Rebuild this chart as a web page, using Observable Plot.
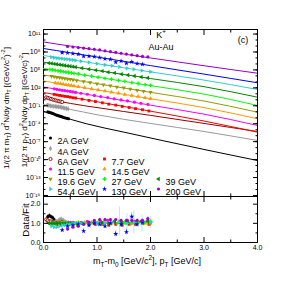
<!DOCTYPE html>
<html><head><meta charset="utf-8">
<script src="https://cdn.jsdelivr.net/npm/d3@7"></script>
<script src="https://cdn.jsdelivr.net/npm/@observablehq/plot@0.6"></script>
<style>
body{margin:0;background:#fff;}
#wrap{position:relative;width:286px;height:286px;line-height:0;}
#wrap svg{display:block;}
#over{position:absolute;left:0;top:0;pointer-events:none;}
</style></head><body><div id="wrap"></div>
<script>
// ---------- data ----------
const energies = ["2A GeV","4A GeV","6A GeV","7.7 GeV","11.5 GeV","14.5 GeV","19.6 GeV","27 GeV","39 GeV","54.4 GeV","130 GeV","200 GeV"];
const colors = ["#000000","#999999","#990000","#ff0000","#ff00ff","#ff9900","#999900","#00ff00","#008800","#33cccc","#0000ff","#9900cc"];
const symbols = ["circle","diamond","circle","square","circle","triangle","triangle","cross","triangle","triangle","star","circle"];
const rotations = [0,0,0,0,0,0,180,0,-90,90,0,0];
const hollow = [false,false,true,false,false,false,false,false,false,false,false,false];

// fit curves: x and log10(y)
const fitX = [
  [0,0.25,0.5,0.8,1.5,3,4],
  [0,0.25,0.5,1,2,3,4],
  [0,0.25,0.5,1,2,3,4],
  [0,0.5,1,2,3,4],[0,0.5,1,2,3,4],[0,0.5,1,2,3,4],[0,0.5,1,2,3,4],
  [0,0.5,1,2,3,4],[0,0.5,1,2,3,4],[0,0.5,1,2,3,4],[0,0.5,1,2,3,4],[0,0.5,1,2,3,4]
];
const fitLogY = [
  [-1.95,-2.6,-3.25,-4.0,-5.4,-8.3,-10.15],
  [-0.8,-1.2,-1.6,-2.5,-3.95,-5.3,-6.8],
  [0.45,-0.15,-0.6,-1.3,-2.6,-3.95,-5.3],
  [1.22,0.45,-0.32,-1.9,-3.55,-5.41],
  [2.14,1.38,0.62,-0.9,-2.4,-4.29],
  [3.15,2.41,1.67,0.18,-1.3,-3.17],
  [4.15,3.43,2.7,1.25,-0.2,-2.07],
  [5.24,4.52,3.8,2.37,0.95,-0.95],
  [6.29,5.6,4.92,3.56,2.2,0.44],
  [7.41,6.72,6.04,4.67,3.3,1.73],
  [8.58,7.87,7.15,5.72,4.3,2.85],
  [9.67,8.99,8.32,7.0,5.7,4.45]
];

// data points: x, log10(y), data/fit ratio and its error
const ptX = [
  [0.08,0.11,0.14,0.17,0.2,0.23,0.26,0.29,0.32,0.35,0.38,0.41,0.44,0.47],
  [0.07,0.1,0.13,0.16,0.19,0.22,0.25,0.28,0.31,0.34,0.37,0.4,0.43,0.46],
  [0.05,0.08,0.11,0.14,0.17,0.2,0.23,0.26,0.29,0.32,0.35],
  [0.2,0.25,0.3,0.35,0.4,0.45,0.5,0.55,0.6,0.72,0.85,0.97,1.1,1.22,1.35,1.47,1.6,1.72,1.85,1.97],
  [0.2,0.25,0.3,0.35,0.4,0.45,0.5,0.55,0.6,0.7,0.82,0.95,1.07,1.2,1.32,1.45,1.57,1.7,1.82,1.95],
  [0.22,0.27,0.32,0.37,0.42,0.47,0.52,0.57,0.65,0.77,0.9,1.02,1.15,1.27,1.4,1.52,1.65,1.77,1.9,2.0],
  [0.15,0.2,0.25,0.3,0.35,0.4,0.45,0.5,0.55,0.62,0.75,0.87,1.0,1.12,1.25,1.37,1.5,1.62,1.75,1.87,2.0],
  [0.12,0.17,0.22,0.27,0.32,0.37,0.42,0.47,0.52,0.57,0.65,0.77,0.9,1.02,1.15,1.27,1.4,1.52,1.65,1.77,1.9,2.0],
  [0.1,0.15,0.2,0.25,0.3,0.35,0.4,0.45,0.5,0.55,0.6,0.72,0.85,0.98,1.1,1.21,1.33,1.46,1.58,1.7,1.83,1.95],
  [0.15,0.2,0.25,0.3,0.35,0.4,0.45,0.5,0.55,0.6,0.7,0.85,1.0,1.15,1.28,1.42,1.56,1.69,1.84,2.0],
  [0.35,0.45,0.55,0.65,0.75,0.85,0.95,1.05,1.15,1.25,1.35,1.45,1.55,1.65,1.75,1.85],
  [0.45,0.55,0.65,0.75,0.85,0.95,1.05,1.15,1.25,1.35,1.45,1.55,1.65,1.75,1.85,1.95]
];
const ptLogY = [
  [-2.03,-2.09,-2.18,-2.28,-2.39,-2.51,-2.61,-2.70,-2.78,-2.86,-2.96,-3.04,-3.09,-3.17],
  [-0.87,-0.94,-1.01,-1.06,-1.08,-1.11,-1.16,-1.19,-1.22,-1.26,-1.33,-1.40,-1.47,-1.52],
  [0.41,0.32,0.23,0.15,0.06,-0.01,-0.10,-0.17,-0.25,-0.30,-0.37],
  [0.91,0.82,0.74,0.66,0.58,0.53,0.45,0.35,0.30,0.11,-0.11,-0.29,-0.50,-0.72,-0.89,-1.11,-1.29,-1.48,-1.66,-1.87],
  [1.84,1.76,1.66,1.59,1.53,1.46,1.40,1.32,1.23,1.10,0.93,0.74,0.55,0.38,0.17,-0.02,-0.19,-0.40,-0.58,-0.76],
  [2.82,2.75,2.70,2.60,2.53,2.43,2.38,2.31,2.19,2.03,1.82,1.64,1.47,1.27,1.10,0.90,0.71,0.55,0.34,0.19],
  [3.93,3.86,3.79,3.72,3.64,3.57,3.50,3.43,3.35,3.23,3.06,2.89,2.70,2.51,2.34,2.16,2.00,1.80,1.61,1.44,1.25],
  [5.07,5.00,4.93,4.85,4.78,4.73,4.64,4.57,4.50,4.42,4.33,4.14,3.97,3.80,3.60,3.44,3.26,3.09,2.88,2.73,2.54,2.42],
  [6.15,6.08,6.02,5.95,5.88,5.81,5.74,5.67,5.61,5.54,5.47,5.30,5.13,4.95,4.80,4.63,4.49,4.29,4.15,3.98,3.82,3.66],
  [7.13,7.04,6.97,6.93,6.88,6.81,6.77,6.71,6.66,6.59,6.45,6.25,6.04,5.83,5.68,5.50,5.27,5.11,4.89,4.69],
  [7.89,7.87,7.74,7.63,7.29,7.31,7.22,7.06,6.87,6.79,6.30,6.49,6.10,6.35,6.06,5.95],
  [8.92,8.83,8.73,8.65,8.55,8.46,8.34,8.20,8.07,7.94,7.79,7.65,7.52,7.39,7.26,7.17]
];
const ratio = [
  [1.35,1.4,1.35,1.3,1.2,1.1,1.05,1.0,1.0,1.0,0.95,0.95,1.0,1.0],
  [1.1,1.05,1.0,1.0,1.05,1.1,1.1,1.15,1.2,1.2,1.15,1.1,1.05,1.05],
  [1.2,1.15,1.1,1.1,1.05,1.05,1.0,1.0,1.0,1.05,1.05],
  [1.0,0.95,0.95,0.95,0.95,1.0,1.0,0.95,1.0,1.0,0.95,0.95,0.95,0.9,0.95,0.9,0.95,0.95,1.0,0.95],
  [1.0,1.0,0.95,0.95,1.0,1.0,1.05,1.05,1.0,1.05,1.1,1.1,1.1,1.15,1.1,1.1,1.15,1.1,1.1,1.15],
  [1.0,1.0,1.05,1.0,1.0,0.95,1.0,1.0,1.0,1.05,1.0,1.0,1.05,1.0,1.05,1.0,1.0,1.05,1.0,1.0],
  [1.0,1.0,1.0,1.0,1.0,1.0,1.0,1.0,1.0,0.95,1.0,1.0,1.0,0.95,1.0,1.0,1.05,1.0,1.0,1.0,1.0],
  [1.0,1.0,1.0,1.0,1.0,1.05,1.0,1.0,1.0,1.0,1.05,1.0,1.05,1.05,1.0,1.05,1.05,1.05,1.0,1.05,1.05,1.1],
  [1.0,1.0,1.0,1.0,1.0,1.0,1.0,1.0,1.0,1.0,1.0,1.0,1.0,1.0,1.05,1.0,1.05,1.0,1.05,1.05,1.1,1.1],
  [0.85,0.8,0.8,0.85,0.9,0.9,0.95,0.95,1.0,1.0,1.0,1.0,1.0,1.0,1.05,1.1,1.0,1.05,1.0,1.05],
  [0.65,0.85,0.9,0.95,0.6,0.9,1.0,0.95,0.85,1.0,0.45,0.95,0.55,1.35,0.95,1.05],
  [0.7,0.8,0.85,0.95,1.05,1.15,1.2,1.2,1.2,1.2,1.15,1.15,1.15,1.15,1.15,1.25]
];
const ratioErr = [
  [0.12,0.12,0.1,0.1,0.08,0.08,0.06,0.06,0.06,0.06,0.06,0.06,0.06,0.06],
  [0.06,0.06,0.06,0.06,0.06,0.08,0.08,0.1,0.12,0.12,0.1,0.08,0.08,0.08],
  [0.06,0.06,0.06,0.06,0.06,0.06,0.06,0.06,0.06,0.06,0.06],
  [0.03,0.03,0.03,0.03,0.03,0.03,0.03,0.03,0.03,0.03,0.03,0.03,0.03,0.04,0.04,0.04,0.05,0.05,0.05,0.06],
  [0.04,0.04,0.04,0.04,0.04,0.04,0.04,0.04,0.04,0.04,0.04,0.05,0.05,0.05,0.05,0.06,0.06,0.06,0.07,0.07],
  [0.03,0.03,0.03,0.03,0.03,0.03,0.03,0.03,0.03,0.03,0.03,0.03,0.04,0.04,0.04,0.04,0.05,0.05,0.05,0.06],
  [0.03,0.03,0.03,0.03,0.03,0.03,0.03,0.03,0.03,0.03,0.03,0.03,0.03,0.04,0.04,0.04,0.04,0.05,0.05,0.05,0.06],
  [0.03,0.03,0.03,0.03,0.03,0.03,0.03,0.03,0.03,0.03,0.03,0.03,0.03,0.03,0.04,0.04,0.04,0.04,0.05,0.05,0.05,0.06],
  [0.03,0.03,0.03,0.03,0.03,0.03,0.03,0.03,0.03,0.03,0.03,0.03,0.03,0.03,0.04,0.04,0.04,0.04,0.05,0.05,0.05,0.06],
  [0.03,0.03,0.03,0.03,0.03,0.03,0.03,0.03,0.04,0.04,0.05,0.05,0.06,0.1,0.2,0.75,0.5,0.6,0.45,0.3],
  [0.1,0.1,0.1,0.12,0.1,0.1,0.1,0.1,0.12,0.12,0.15,0.15,0.15,0.2,0.15,0.15],
  [0.05,0.05,0.05,0.05,0.05,0.05,0.06,0.06,0.06,0.06,0.07,0.07,0.08,0.08,0.08,0.1]
];

// ticks
const xMajor = [0,1,2,3,4];
const xMinor = [0.5,1.5,2.5,3.5];
const yExpMajor = [-16,-13,-10,-7,-4,-1,2,5,8,11];
const yExpAll = d3.range(-16, 12);
const rMajor = [0,1,2];
const rMinor = [0.5,1.5];

// legend layout (row / column of each entry)
const legendRow = [0,1,2,2,3,3,4,4,4,5,5,5];
const legendCol = [0,0,0,1,0,1,0,1,2,0,1,2];

// ---------- drawing ----------
const FONT = "'Liberation Sans', Arial, Helvetica, sans-serif";
const W = 286, mL = 43, mR = 29, topH = 196, topM = 29;
const legColPx = [50, 104, 158];
const legRowPx = [137.5, 148, 158.5, 168.5, 178.5, 188.5];

const sup = {"0":"⁰","1":"¹","2":"²","3":"³","4":"⁴","5":"⁵","6":"⁶","7":"⁷","8":"⁸","9":"⁹","-":"⁻"};
const fmtPow = d => "10" + String(Math.round(Math.log10(d))).split("").map(c => sup[c]).join("");

function dotOpts(s, extra) {
  return Object.assign({
    symbol: symbols[s], r: 1.6, rotate: rotations[s],
    fill: hollow[s] ? "white" : colors[s],
    stroke: hollow[s] ? colors[s] : "none",
    strokeWidth: hollow[s] ? 0.9 : 0
  }, extra);
}

const topMarks = [Plot.frame({stroke: "black", strokeWidth: 1})];
energies.forEach((e, s) => {
  const rows = fitX[s].map((x, j) => ({x, y: 10 ** fitLogY[s][j]}));
  topMarks.push(Plot.line(rows, {x: "x", y: "y", stroke: colors[s], strokeWidth: 1, curve: "monotone-x", clip: true}));
});
energies.forEach((e, s) => {
  const rows = ptX[s].map((x, j) => ({x, y: 10 ** ptLogY[s][j]}));
  topMarks.push(Plot.dot(rows, dotOpts(s, {x: "x", y: "y"})));
});
// legend
energies.forEach((e, s) => {
  const px = legColPx[legendCol[s]], py = legRowPx[legendRow[s]];
  topMarks.push(Plot.dot([0], dotOpts(s, {frameAnchor: "top-left", dx: px - mL, dy: py - topM})));
  topMarks.push(Plot.text([e], {frameAnchor: "top-left", dx: px - mL + 7, dy: py - topM, text: d => d, textAnchor: "start", fontSize: 9, fill: "black"}));
});
// axes
topMarks.push(
  Plot.axisY({ticks: yExpMajor.map(k => 10 ** k), anchor: "left", tickSize: -5, tickPadding: 8, tickFormat: fmtPow, fontSize: 7, label: null}),
  Plot.axisY({ticks: yExpAll.map(k => 10 ** k), anchor: "left", tickSize: -2.5, fill: "none", label: null}),
  Plot.axisY({ticks: yExpMajor.map(k => 10 ** k), anchor: "right", tickSize: -5, fill: "none", label: null}),
  Plot.axisY({ticks: yExpAll.map(k => 10 ** k), anchor: "right", tickSize: -2.5, fill: "none", label: null}),
  Plot.axisX({ticks: xMajor, anchor: "top", tickSize: -5, fill: "none", label: null}),
  Plot.axisX({ticks: xMinor, anchor: "top", tickSize: -2.5, fill: "none", label: null}),
  Plot.axisX({ticks: xMajor, anchor: "bottom", tickSize: -5, fill: "none", label: null}),
  Plot.axisX({ticks: xMinor, anchor: "bottom", tickSize: -2.5, fill: "none", label: null})
);

const topPlot = Plot.plot({
  width: W, height: topH, marginTop: topM, marginBottom: 0, marginLeft: mL, marginRight: mR,
  style: {fontFamily: FONT, background: "white", overflow: "visible"},
  x: {domain: [0, 4]},
  y: {type: "log", domain: [10 ** -16.17, 10 ** 11.76]},
  marks: topMarks
});

const botMarks = [Plot.frame({stroke: "black", strokeWidth: 1})];
energies.forEach((e, s) => {
  const rows = ptX[s].map((x, j) => ({x, lo: ratio[s][j] - ratioErr[s][j], hi: ratio[s][j] + ratioErr[s][j]}));
  botMarks.push(Plot.ruleX(rows, {x: "x", y1: "lo", y2: "hi", stroke: colors[s], strokeOpacity: 0.45, strokeWidth: 0.8, clip: true}));
});
energies.forEach((e, s) => {
  const rows = ptX[s].map((x, j) => ({x, r: ratio[s][j]}));
  botMarks.push(Plot.dot(rows, dotOpts(s, {x: "x", y: "r"})));
});
botMarks.push(
  Plot.axisY({ticks: rMajor, anchor: "left", tickSize: -5, tickPadding: 8, fontSize: 7, label: null}),
  Plot.axisY({ticks: rMinor, anchor: "left", tickSize: -2.5, fill: "none", label: null}),
  Plot.axisY({ticks: rMajor, anchor: "right", tickSize: -5, fill: "none", label: null}),
  Plot.axisY({ticks: rMinor, anchor: "right", tickSize: -2.5, fill: "none", label: null}),
  Plot.axisX({ticks: xMajor, anchor: "bottom", tickSize: -5, tickPadding: 8, fontSize: 7, label: null}),
  Plot.axisX({ticks: xMinor, anchor: "bottom", tickSize: -2.5, fill: "none", label: null}),
  Plot.axisX({ticks: xMajor, anchor: "top", tickSize: -5, fill: "none", label: null}),
  Plot.axisX({ticks: xMinor, anchor: "top", tickSize: -2.5, fill: "none", label: null})
);
const botPlot = Plot.plot({
  width: W, height: 90, marginTop: 0, marginBottom: 44, marginLeft: mL, marginRight: mR,
  style: {fontFamily: FONT, background: "white", overflow: "visible"},
  x: {domain: [0, 4]},
  y: {domain: [0, 2.4]},
  marks: botMarks
});

const wrap = document.getElementById("wrap");
wrap.appendChild(topPlot);
wrap.appendChild(botPlot);

// overlay labels with sub/superscripts
const over = d3.select(wrap).append("svg").attr("id", "over")
  .attr("width", W).attr("height", 286).style("font-family", FONT);

function rich(g, parts, fs) {
  const t = g.append("text").attr("font-size", fs).attr("text-anchor", "middle").attr("fill", "black");
  let shift = 0;
  parts.forEach(([str, kind]) => {
    const target = kind === "sub" ? fs * 0.3 : kind === "sup" ? -fs * 0.42 : 0;
    const ts = t.append("tspan").text(str).attr("dy", target - shift);
    if (kind) ts.attr("font-size", fs * 0.7);
    shift = target;
  });
  return t;
}
const yLab1 = [["1/(2 π m"],["T","sub"],[") d"],["2","sup"],["N/dy dm"],["T","sub"],[" [(GeV/c"],["2","sup"],[")"],["-2","sup"],["]"]];
const yLab2 = [["1/(2 π p"],["T","sub"],[") d"],["2","sup"],["N/dy dp"],["T","sub"],[" [(GeV/c)"],["-2","sup"],["]"]];
const xLab = [["m"],["T","sub"],["-m"],["0","sub"],[" [GeV/c"],["2","sup"],["],  p"],["T","sub"],[" [GeV/c]"]];

rich(over.append("g").attr("transform", "translate(8.5,108) rotate(-90)"), yLab1, 8);
rich(over.append("g").attr("transform", "translate(26.5,110) rotate(-90)"), yLab2, 8);
rich(over.append("g").attr("transform", "translate(28.5,220) rotate(-90)"), [["Data/Fit"]], 9.5);
rich(over.append("g").attr("transform", "translate(147,264)"), xLab, 9);
rich(over.append("g").attr("transform", "translate(161,38)"), [["K"],["+","sup"]], 9);
rich(over.append("g").attr("transform", "translate(161,50)"), [["Au-Au"]], 9);
rich(over.append("g").attr("transform", "translate(243,43)"), [["(c)"]], 9);
</script></body></html>
